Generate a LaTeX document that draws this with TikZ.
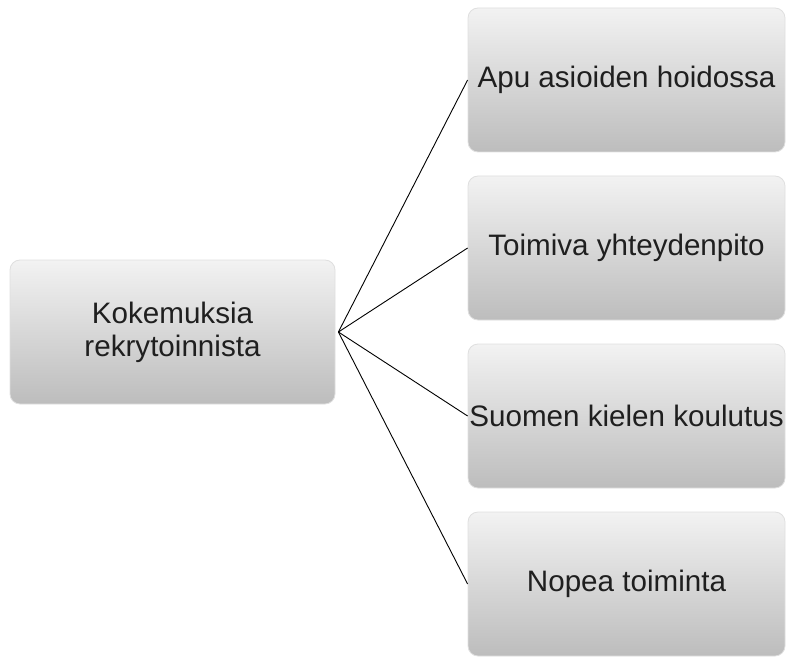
\documentclass[tikz,border=0pt]{standalone}
\usepackage{fontspec}
\setmainfont{Liberation Sans}
\begin{document}
\begin{tikzpicture}[x=1pt,y=1pt,
  card/.style={rectangle, rounded corners=10pt, draw=gray!25, line width=0.8pt,
    top color=white!95!black, bottom color=black!26,
    text=black!88, font=\fontsize{29.6}{33}\selectfont, align=center, inner sep=0pt},
  hubline/.style={draw=black, line width=0.9pt}]
  \useasboundingbox (0,0) rectangle (786,657);
  % root card
  \node[card, minimum width=325pt, minimum height=144pt] (root) at (172.5,325)
    {Kokemuksia\\rekrytoinnista};
  % child cards
  \node[card, minimum width=317pt, minimum height=144pt] (c1) at (626.5,577) {Apu asioiden hoidossa};
  \node[card, minimum width=317pt, minimum height=144pt] (c2) at (626.5,409) {Toimiva yhteydenpito};
  \node[card, minimum width=317pt, minimum height=144pt] (c3) at (626.5,241) {Suomen kielen koulutus};
  \node[card, minimum width=317pt, minimum height=144pt] (c4) at (626.5,73) {Nopea toiminta};
  % fan of connectors
  \coordinate (hub) at ([xshift=3pt]root.east);
  \foreach \c in {c1,c2,c3,c4}
    \draw[hubline] (hub) -- (\c.west);
\end{tikzpicture}
\end{document}
